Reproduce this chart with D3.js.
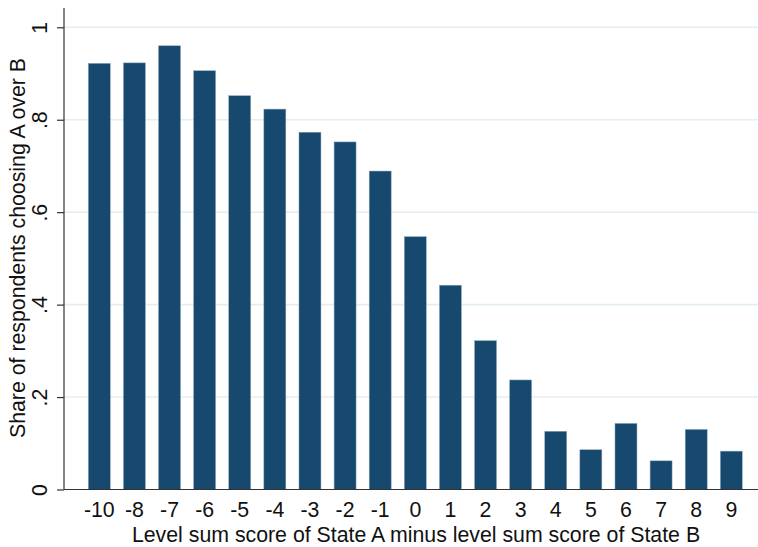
<!DOCTYPE html>
<html><head><meta charset="utf-8">
<script src="https://cdn.jsdelivr.net/npm/d3@7"></script>
<style>body{margin:0;background:#fff}svg{display:block}</style>
</head><body>
<script>
const categories = ["-10","-8","-7","-6","-5","-4","-3","-2","-1","0","1","2","3","4","5","6","7","8","9"];
const shares = [0.922,0.923,0.960,0.906,0.852,0.823,0.773,0.752,0.689,0.547,0.442,0.322,0.237,0.126,0.086,0.143,0.062,0.130,0.083];
const yTicks = [0,0.2,0.4,0.6,0.8,1];
const yTickLabels = ["0",".2",".4",".6",".8","1"];
const xTitle = "Level sum score of State A minus level sum score of State B";
const yTitle = "Share of respondents choosing A over B";

const W = 758, H = 547;
const svg = d3.select("body").append("svg").attr("width", W).attr("height", H);
const font = "Liberation Sans, Arial, sans-serif";
const fs = 21.3;

const y = d3.scaleLinear().domain([0,1]).range([489.5, 27.3]);
const x = d3.scaleBand().domain(categories).range([88.3, 742.3]).paddingInner(0.374).paddingOuter(0);

// grid
svg.append("g").selectAll("line").data(yTicks.slice(1)).join("line")
  .attr("x1", 64).attr("x2", W).attr("y1", d=>y(d)).attr("y2", d=>y(d))
  .attr("stroke", "#e4eef0").attr("stroke-width", 1.6);

// bars
svg.append("g").selectAll("rect").data(categories).join("rect")
  .attr("x", d=>x(d)).attr("width", x.bandwidth())
  .attr("y", (d,i)=>y(shares[i])).attr("height", (d,i)=>y(0)-y(shares[i]))
  .attr("fill", "#17496f").attr("stroke", "#8ea7bd").attr("stroke-width", 0.5);

// y axis
const yAxis = d3.axisLeft(y).tickValues(yTicks).tickFormat((d,i)=>yTickLabels[i]).tickSize(7).tickPadding(6);
const gy = svg.append("g").attr("transform", "translate(64,0)").call(yAxis);
gy.select(".domain").attr("d", `M0,${8}V${y(0)}`).attr("stroke", "#333").attr("stroke-width", 1.2);
gy.selectAll(".tick line").attr("stroke", "#333").attr("stroke-width", 1.2);
gy.selectAll(".tick text").attr("font-family", font).attr("font-size", fs).attr("fill", "#111")
  .attr("transform", "rotate(-90)").attr("x", 0).attr("y", -17).attr("dy", "0")
  .attr("text-anchor", "middle");

// x axis
const xAxis = d3.axisBottom(x).tickSize(0).tickPadding(10);
const gx = svg.append("g").attr("transform", `translate(0,${y(0)})`).call(xAxis);
gx.select(".domain").attr("d", `M64,0H${W}`).attr("stroke", "#333").attr("stroke-width", 1.2);
gx.selectAll(".tick text").attr("font-family", font).attr("font-size", fs).attr("fill", "#111").attr("dy", "0.71em").attr("y", 12);

// titles
svg.append("text").attr("x", 416).attr("y", 542).attr("text-anchor", "middle")
  .attr("font-family", font).attr("font-size", fs).attr("fill", "#111").text(xTitle);
svg.append("text").attr("transform", `translate(25,248) rotate(-90)`).attr("text-anchor", "middle")
  .attr("font-family", font).attr("font-size", fs).attr("fill", "#111").text(yTitle);
</script>
</body></html>
